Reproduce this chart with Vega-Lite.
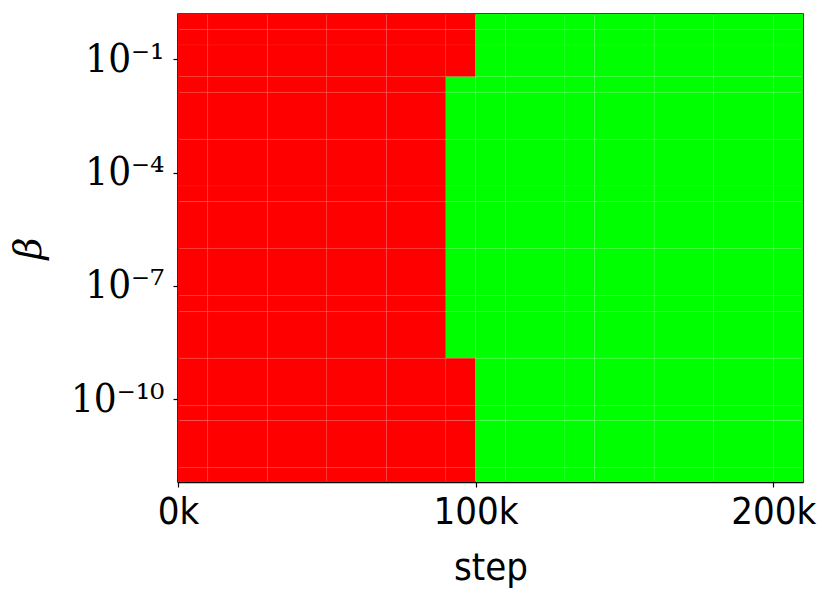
{
  "$schema": "https://vega.github.io/schema/vega-lite/v6.json",
  "autosize": {"type": "none"},
  "padding": {"left": 178, "top": 14, "right": 28, "bottom": 120},
  "width": 625,
  "height": 468,
  "background": "#ffffff",
  "config": {
    "view": {"stroke": "#000000", "strokeWidth": 1.6},
    "axis": {"grid": false, "domainColor": "#000000", "domainWidth": 1.4, "tickColor": "#000000", "tickWidth": 1.2, "tickSize": 5, "labelColor": "#000000", "titleColor": "#000000"}
  },
  "data": {"values": [
    {"s0":0,"s1":10000,"b0":1.581,"b1":0.622,"v":"fail"},
    {"s0":10000,"s1":30000,"b0":1.581,"b1":0.622,"v":"fail"},
    {"s0":30000,"s1":50000,"b0":1.581,"b1":0.622,"v":"fail"},
    {"s0":50000,"s1":70000,"b0":1.581,"b1":0.622,"v":"fail"},
    {"s0":70000,"s1":90000,"b0":1.581,"b1":0.622,"v":"fail"},
    {"s0":90000,"s1":100000,"b0":1.581,"b1":0.622,"v":"fail"},
    {"s0":100000,"s1":110000,"b0":1.581,"b1":0.622,"v":"pass"},
    {"s0":110000,"s1":130000,"b0":1.581,"b1":0.622,"v":"pass"},
    {"s0":130000,"s1":140000,"b0":1.581,"b1":0.622,"v":"pass"},
    {"s0":140000,"s1":160000,"b0":1.581,"b1":0.622,"v":"pass"},
    {"s0":160000,"s1":180000,"b0":1.581,"b1":0.622,"v":"pass"},
    {"s0":180000,"s1":200000,"b0":1.581,"b1":0.622,"v":"pass"},
    {"s0":200000,"s1":210000,"b0":1.581,"b1":0.622,"v":"pass"},

    {"s0":0,"s1":10000,"b0":0.622,"b1":0.239,"v":"fail"},
    {"s0":10000,"s1":30000,"b0":0.622,"b1":0.239,"v":"fail"},
    {"s0":30000,"s1":50000,"b0":0.622,"b1":0.239,"v":"fail"},
    {"s0":50000,"s1":70000,"b0":0.622,"b1":0.239,"v":"fail"},
    {"s0":70000,"s1":90000,"b0":0.622,"b1":0.239,"v":"fail"},
    {"s0":90000,"s1":100000,"b0":0.622,"b1":0.239,"v":"fail"},
    {"s0":100000,"s1":110000,"b0":0.622,"b1":0.239,"v":"pass"},
    {"s0":110000,"s1":130000,"b0":0.622,"b1":0.239,"v":"pass"},
    {"s0":130000,"s1":140000,"b0":0.622,"b1":0.239,"v":"pass"},
    {"s0":140000,"s1":160000,"b0":0.622,"b1":0.239,"v":"pass"},
    {"s0":160000,"s1":180000,"b0":0.622,"b1":0.239,"v":"pass"},
    {"s0":180000,"s1":200000,"b0":0.622,"b1":0.239,"v":"pass"},
    {"s0":200000,"s1":210000,"b0":0.622,"b1":0.239,"v":"pass"},

    {"s0":0,"s1":10000,"b0":0.239,"b1":0.0346,"v":"fail"},
    {"s0":10000,"s1":30000,"b0":0.239,"b1":0.0346,"v":"fail"},
    {"s0":30000,"s1":50000,"b0":0.239,"b1":0.0346,"v":"fail"},
    {"s0":50000,"s1":70000,"b0":0.239,"b1":0.0346,"v":"fail"},
    {"s0":70000,"s1":90000,"b0":0.239,"b1":0.0346,"v":"fail"},
    {"s0":90000,"s1":100000,"b0":0.239,"b1":0.0346,"v":"fail"},
    {"s0":100000,"s1":110000,"b0":0.239,"b1":0.0346,"v":"pass"},
    {"s0":110000,"s1":130000,"b0":0.239,"b1":0.0346,"v":"pass"},
    {"s0":130000,"s1":140000,"b0":0.239,"b1":0.0346,"v":"pass"},
    {"s0":140000,"s1":160000,"b0":0.239,"b1":0.0346,"v":"pass"},
    {"s0":160000,"s1":180000,"b0":0.239,"b1":0.0346,"v":"pass"},
    {"s0":180000,"s1":200000,"b0":0.239,"b1":0.0346,"v":"pass"},
    {"s0":200000,"s1":210000,"b0":0.239,"b1":0.0346,"v":"pass"},

    {"s0":0,"s1":10000,"b0":0.0346,"b1":0.0134,"v":"fail"},
    {"s0":10000,"s1":30000,"b0":0.0346,"b1":0.0134,"v":"fail"},
    {"s0":30000,"s1":50000,"b0":0.0346,"b1":0.0134,"v":"fail"},
    {"s0":50000,"s1":70000,"b0":0.0346,"b1":0.0134,"v":"fail"},
    {"s0":70000,"s1":90000,"b0":0.0346,"b1":0.0134,"v":"fail"},
    {"s0":90000,"s1":100000,"b0":0.0346,"b1":0.0134,"v":"pass"},
    {"s0":100000,"s1":110000,"b0":0.0346,"b1":0.0134,"v":"pass"},
    {"s0":110000,"s1":130000,"b0":0.0346,"b1":0.0134,"v":"pass"},
    {"s0":130000,"s1":140000,"b0":0.0346,"b1":0.0134,"v":"pass"},
    {"s0":140000,"s1":160000,"b0":0.0346,"b1":0.0134,"v":"pass"},
    {"s0":160000,"s1":180000,"b0":0.0346,"b1":0.0134,"v":"pass"},
    {"s0":180000,"s1":200000,"b0":0.0346,"b1":0.0134,"v":"pass"},
    {"s0":200000,"s1":210000,"b0":0.0346,"b1":0.0134,"v":"pass"},

    {"s0":0,"s1":10000,"b0":0.0134,"b1":0.000764,"v":"fail"},
    {"s0":10000,"s1":30000,"b0":0.0134,"b1":0.000764,"v":"fail"},
    {"s0":30000,"s1":50000,"b0":0.0134,"b1":0.000764,"v":"fail"},
    {"s0":50000,"s1":70000,"b0":0.0134,"b1":0.000764,"v":"fail"},
    {"s0":70000,"s1":90000,"b0":0.0134,"b1":0.000764,"v":"fail"},
    {"s0":90000,"s1":100000,"b0":0.0134,"b1":0.000764,"v":"pass"},
    {"s0":100000,"s1":110000,"b0":0.0134,"b1":0.000764,"v":"pass"},
    {"s0":110000,"s1":130000,"b0":0.0134,"b1":0.000764,"v":"pass"},
    {"s0":130000,"s1":140000,"b0":0.0134,"b1":0.000764,"v":"pass"},
    {"s0":140000,"s1":160000,"b0":0.0134,"b1":0.000764,"v":"pass"},
    {"s0":160000,"s1":180000,"b0":0.0134,"b1":0.000764,"v":"pass"},
    {"s0":180000,"s1":200000,"b0":0.0134,"b1":0.000764,"v":"pass"},
    {"s0":200000,"s1":210000,"b0":0.0134,"b1":0.000764,"v":"pass"},

    {"s0":0,"s1":10000,"b0":0.000764,"b1":0.0000444,"v":"fail"},
    {"s0":10000,"s1":30000,"b0":0.000764,"b1":0.0000444,"v":"fail"},
    {"s0":30000,"s1":50000,"b0":0.000764,"b1":0.0000444,"v":"fail"},
    {"s0":50000,"s1":70000,"b0":0.000764,"b1":0.0000444,"v":"fail"},
    {"s0":70000,"s1":90000,"b0":0.000764,"b1":0.0000444,"v":"fail"},
    {"s0":90000,"s1":100000,"b0":0.000764,"b1":0.0000444,"v":"pass"},
    {"s0":100000,"s1":110000,"b0":0.000764,"b1":0.0000444,"v":"pass"},
    {"s0":110000,"s1":130000,"b0":0.000764,"b1":0.0000444,"v":"pass"},
    {"s0":130000,"s1":140000,"b0":0.000764,"b1":0.0000444,"v":"pass"},
    {"s0":140000,"s1":160000,"b0":0.000764,"b1":0.0000444,"v":"pass"},
    {"s0":160000,"s1":180000,"b0":0.000764,"b1":0.0000444,"v":"pass"},
    {"s0":180000,"s1":200000,"b0":0.000764,"b1":0.0000444,"v":"pass"},
    {"s0":200000,"s1":210000,"b0":0.000764,"b1":0.0000444,"v":"pass"},

    {"s0":0,"s1":10000,"b0":0.0000444,"b1":0.000017,"v":"fail"},
    {"s0":10000,"s1":30000,"b0":0.0000444,"b1":0.000017,"v":"fail"},
    {"s0":30000,"s1":50000,"b0":0.0000444,"b1":0.000017,"v":"fail"},
    {"s0":50000,"s1":70000,"b0":0.0000444,"b1":0.000017,"v":"fail"},
    {"s0":70000,"s1":90000,"b0":0.0000444,"b1":0.000017,"v":"fail"},
    {"s0":90000,"s1":100000,"b0":0.0000444,"b1":0.000017,"v":"pass"},
    {"s0":100000,"s1":110000,"b0":0.0000444,"b1":0.000017,"v":"pass"},
    {"s0":110000,"s1":130000,"b0":0.0000444,"b1":0.000017,"v":"pass"},
    {"s0":130000,"s1":140000,"b0":0.0000444,"b1":0.000017,"v":"pass"},
    {"s0":140000,"s1":160000,"b0":0.0000444,"b1":0.000017,"v":"pass"},
    {"s0":160000,"s1":180000,"b0":0.0000444,"b1":0.000017,"v":"pass"},
    {"s0":180000,"s1":200000,"b0":0.0000444,"b1":0.000017,"v":"pass"},
    {"s0":200000,"s1":210000,"b0":0.0000444,"b1":0.000017,"v":"pass"},

    {"s0":0,"s1":10000,"b0":0.000017,"b1":9.93e-7,"v":"fail"},
    {"s0":10000,"s1":30000,"b0":0.000017,"b1":9.93e-7,"v":"fail"},
    {"s0":30000,"s1":50000,"b0":0.000017,"b1":9.93e-7,"v":"fail"},
    {"s0":50000,"s1":70000,"b0":0.000017,"b1":9.93e-7,"v":"fail"},
    {"s0":70000,"s1":90000,"b0":0.000017,"b1":9.93e-7,"v":"fail"},
    {"s0":90000,"s1":100000,"b0":0.000017,"b1":9.93e-7,"v":"pass"},
    {"s0":100000,"s1":110000,"b0":0.000017,"b1":9.93e-7,"v":"pass"},
    {"s0":110000,"s1":130000,"b0":0.000017,"b1":9.93e-7,"v":"pass"},
    {"s0":130000,"s1":140000,"b0":0.000017,"b1":9.93e-7,"v":"pass"},
    {"s0":140000,"s1":160000,"b0":0.000017,"b1":9.93e-7,"v":"pass"},
    {"s0":160000,"s1":180000,"b0":0.000017,"b1":9.93e-7,"v":"pass"},
    {"s0":180000,"s1":200000,"b0":0.000017,"b1":9.93e-7,"v":"pass"},
    {"s0":200000,"s1":210000,"b0":0.000017,"b1":9.93e-7,"v":"pass"},

    {"s0":0,"s1":10000,"b0":9.93e-7,"b1":5.53e-8,"v":"fail"},
    {"s0":10000,"s1":30000,"b0":9.93e-7,"b1":5.53e-8,"v":"fail"},
    {"s0":30000,"s1":50000,"b0":9.93e-7,"b1":5.53e-8,"v":"fail"},
    {"s0":50000,"s1":70000,"b0":9.93e-7,"b1":5.53e-8,"v":"fail"},
    {"s0":70000,"s1":90000,"b0":9.93e-7,"b1":5.53e-8,"v":"fail"},
    {"s0":90000,"s1":100000,"b0":9.93e-7,"b1":5.53e-8,"v":"pass"},
    {"s0":100000,"s1":110000,"b0":9.93e-7,"b1":5.53e-8,"v":"pass"},
    {"s0":110000,"s1":130000,"b0":9.93e-7,"b1":5.53e-8,"v":"pass"},
    {"s0":130000,"s1":140000,"b0":9.93e-7,"b1":5.53e-8,"v":"pass"},
    {"s0":140000,"s1":160000,"b0":9.93e-7,"b1":5.53e-8,"v":"pass"},
    {"s0":160000,"s1":180000,"b0":9.93e-7,"b1":5.53e-8,"v":"pass"},
    {"s0":180000,"s1":200000,"b0":9.93e-7,"b1":5.53e-8,"v":"pass"},
    {"s0":200000,"s1":210000,"b0":9.93e-7,"b1":5.53e-8,"v":"pass"},

    {"s0":0,"s1":10000,"b0":5.53e-8,"b1":2.08e-8,"v":"fail"},
    {"s0":10000,"s1":30000,"b0":5.53e-8,"b1":2.08e-8,"v":"fail"},
    {"s0":30000,"s1":50000,"b0":5.53e-8,"b1":2.08e-8,"v":"fail"},
    {"s0":50000,"s1":70000,"b0":5.53e-8,"b1":2.08e-8,"v":"fail"},
    {"s0":70000,"s1":90000,"b0":5.53e-8,"b1":2.08e-8,"v":"fail"},
    {"s0":90000,"s1":100000,"b0":5.53e-8,"b1":2.08e-8,"v":"pass"},
    {"s0":100000,"s1":110000,"b0":5.53e-8,"b1":2.08e-8,"v":"pass"},
    {"s0":110000,"s1":130000,"b0":5.53e-8,"b1":2.08e-8,"v":"pass"},
    {"s0":130000,"s1":140000,"b0":5.53e-8,"b1":2.08e-8,"v":"pass"},
    {"s0":140000,"s1":160000,"b0":5.53e-8,"b1":2.08e-8,"v":"pass"},
    {"s0":160000,"s1":180000,"b0":5.53e-8,"b1":2.08e-8,"v":"pass"},
    {"s0":180000,"s1":200000,"b0":5.53e-8,"b1":2.08e-8,"v":"pass"},
    {"s0":200000,"s1":210000,"b0":5.53e-8,"b1":2.08e-8,"v":"pass"},

    {"s0":0,"s1":10000,"b0":2.08e-8,"b1":1.22e-9,"v":"fail"},
    {"s0":10000,"s1":30000,"b0":2.08e-8,"b1":1.22e-9,"v":"fail"},
    {"s0":30000,"s1":50000,"b0":2.08e-8,"b1":1.22e-9,"v":"fail"},
    {"s0":50000,"s1":70000,"b0":2.08e-8,"b1":1.22e-9,"v":"fail"},
    {"s0":70000,"s1":90000,"b0":2.08e-8,"b1":1.22e-9,"v":"fail"},
    {"s0":90000,"s1":100000,"b0":2.08e-8,"b1":1.22e-9,"v":"pass"},
    {"s0":100000,"s1":110000,"b0":2.08e-8,"b1":1.22e-9,"v":"pass"},
    {"s0":110000,"s1":130000,"b0":2.08e-8,"b1":1.22e-9,"v":"pass"},
    {"s0":130000,"s1":140000,"b0":2.08e-8,"b1":1.22e-9,"v":"pass"},
    {"s0":140000,"s1":160000,"b0":2.08e-8,"b1":1.22e-9,"v":"pass"},
    {"s0":160000,"s1":180000,"b0":2.08e-8,"b1":1.22e-9,"v":"pass"},
    {"s0":180000,"s1":200000,"b0":2.08e-8,"b1":1.22e-9,"v":"pass"},
    {"s0":200000,"s1":210000,"b0":2.08e-8,"b1":1.22e-9,"v":"pass"},

    {"s0":0,"s1":10000,"b0":1.22e-9,"b1":6.78e-11,"v":"fail"},
    {"s0":10000,"s1":30000,"b0":1.22e-9,"b1":6.78e-11,"v":"fail"},
    {"s0":30000,"s1":50000,"b0":1.22e-9,"b1":6.78e-11,"v":"fail"},
    {"s0":50000,"s1":70000,"b0":1.22e-9,"b1":6.78e-11,"v":"fail"},
    {"s0":70000,"s1":90000,"b0":1.22e-9,"b1":6.78e-11,"v":"fail"},
    {"s0":90000,"s1":100000,"b0":1.22e-9,"b1":6.78e-11,"v":"fail"},
    {"s0":100000,"s1":110000,"b0":1.22e-9,"b1":6.78e-11,"v":"pass"},
    {"s0":110000,"s1":130000,"b0":1.22e-9,"b1":6.78e-11,"v":"pass"},
    {"s0":130000,"s1":140000,"b0":1.22e-9,"b1":6.78e-11,"v":"pass"},
    {"s0":140000,"s1":160000,"b0":1.22e-9,"b1":6.78e-11,"v":"pass"},
    {"s0":160000,"s1":180000,"b0":1.22e-9,"b1":6.78e-11,"v":"pass"},
    {"s0":180000,"s1":200000,"b0":1.22e-9,"b1":6.78e-11,"v":"pass"},
    {"s0":200000,"s1":210000,"b0":1.22e-9,"b1":6.78e-11,"v":"pass"},

    {"s0":0,"s1":10000,"b0":6.78e-11,"b1":2.72e-11,"v":"fail"},
    {"s0":10000,"s1":30000,"b0":6.78e-11,"b1":2.72e-11,"v":"fail"},
    {"s0":30000,"s1":50000,"b0":6.78e-11,"b1":2.72e-11,"v":"fail"},
    {"s0":50000,"s1":70000,"b0":6.78e-11,"b1":2.72e-11,"v":"fail"},
    {"s0":70000,"s1":90000,"b0":6.78e-11,"b1":2.72e-11,"v":"fail"},
    {"s0":90000,"s1":100000,"b0":6.78e-11,"b1":2.72e-11,"v":"fail"},
    {"s0":100000,"s1":110000,"b0":6.78e-11,"b1":2.72e-11,"v":"pass"},
    {"s0":110000,"s1":130000,"b0":6.78e-11,"b1":2.72e-11,"v":"pass"},
    {"s0":130000,"s1":140000,"b0":6.78e-11,"b1":2.72e-11,"v":"pass"},
    {"s0":140000,"s1":160000,"b0":6.78e-11,"b1":2.72e-11,"v":"pass"},
    {"s0":160000,"s1":180000,"b0":6.78e-11,"b1":2.72e-11,"v":"pass"},
    {"s0":180000,"s1":200000,"b0":6.78e-11,"b1":2.72e-11,"v":"pass"},
    {"s0":200000,"s1":210000,"b0":6.78e-11,"b1":2.72e-11,"v":"pass"},

    {"s0":0,"s1":10000,"b0":2.72e-11,"b1":1.55e-12,"v":"fail"},
    {"s0":10000,"s1":30000,"b0":2.72e-11,"b1":1.55e-12,"v":"fail"},
    {"s0":30000,"s1":50000,"b0":2.72e-11,"b1":1.55e-12,"v":"fail"},
    {"s0":50000,"s1":70000,"b0":2.72e-11,"b1":1.55e-12,"v":"fail"},
    {"s0":70000,"s1":90000,"b0":2.72e-11,"b1":1.55e-12,"v":"fail"},
    {"s0":90000,"s1":100000,"b0":2.72e-11,"b1":1.55e-12,"v":"fail"},
    {"s0":100000,"s1":110000,"b0":2.72e-11,"b1":1.55e-12,"v":"pass"},
    {"s0":110000,"s1":130000,"b0":2.72e-11,"b1":1.55e-12,"v":"pass"},
    {"s0":130000,"s1":140000,"b0":2.72e-11,"b1":1.55e-12,"v":"pass"},
    {"s0":140000,"s1":160000,"b0":2.72e-11,"b1":1.55e-12,"v":"pass"},
    {"s0":160000,"s1":180000,"b0":2.72e-11,"b1":1.55e-12,"v":"pass"},
    {"s0":180000,"s1":200000,"b0":2.72e-11,"b1":1.55e-12,"v":"pass"},
    {"s0":200000,"s1":210000,"b0":2.72e-11,"b1":1.55e-12,"v":"pass"},

    {"s0":0,"s1":10000,"b0":1.55e-12,"b1":6.47e-13,"v":"fail"},
    {"s0":10000,"s1":30000,"b0":1.55e-12,"b1":6.47e-13,"v":"fail"},
    {"s0":30000,"s1":50000,"b0":1.55e-12,"b1":6.47e-13,"v":"fail"},
    {"s0":50000,"s1":70000,"b0":1.55e-12,"b1":6.47e-13,"v":"fail"},
    {"s0":70000,"s1":90000,"b0":1.55e-12,"b1":6.47e-13,"v":"fail"},
    {"s0":90000,"s1":100000,"b0":1.55e-12,"b1":6.47e-13,"v":"fail"},
    {"s0":100000,"s1":110000,"b0":1.55e-12,"b1":6.47e-13,"v":"pass"},
    {"s0":110000,"s1":130000,"b0":1.55e-12,"b1":6.47e-13,"v":"pass"},
    {"s0":130000,"s1":140000,"b0":1.55e-12,"b1":6.47e-13,"v":"pass"},
    {"s0":140000,"s1":160000,"b0":1.55e-12,"b1":6.47e-13,"v":"pass"},
    {"s0":160000,"s1":180000,"b0":1.55e-12,"b1":6.47e-13,"v":"pass"},
    {"s0":180000,"s1":200000,"b0":1.55e-12,"b1":6.47e-13,"v":"pass"},
    {"s0":200000,"s1":210000,"b0":1.55e-12,"b1":6.47e-13,"v":"pass"}
  ]},
  "mark": {"type": "rect", "stroke": "#ffffff", "strokeWidth": 1, "strokeOpacity": 0.05},
  "encoding": {
    "x": {
      "field": "s0", "type": "quantitative",
      "scale": {"domain": [0, 210000], "nice": false, "zero": false},
      "axis": {
        "values": [0, 100000, 200000],
        "labelExpr": "format(datum.value / 1000, 'd') + 'k'",
        "labelFont": "DejaVu Sans Condensed", "labelFontSize": 38,
        "labelPadding": 6, "labelFlush": false, "labelOverlap": false,
        "title": "step", "titleFont": "DejaVu Sans Condensed", "titleFontSize": 38, "titleFontWeight": "normal", "titlePadding": 18
      }
    },
    "x2": {"field": "s1"},
    "y": {
      "field": "b0", "type": "quantitative",
      "scale": {"type": "log", "domain": [6.47e-13, 1.581], "nice": false},
      "axis": {
        "values": [0.1, 0.0001, 1e-7, 1e-10],
        "labelExpr": "datum.value < 1e-9 ? '10⁻¹⁰' : datum.value < 1e-6 ? '10⁻⁷' : datum.value < 1e-3 ? '10⁻⁴' : '10⁻¹'",
        "labelFont": "DejaVu Serif Condensed", "labelFontSize": 40, "labelPadding": 9, "labelFlush": false, "labelOverlap": false, "labelBaseline": "middle",
        "title": "β", "titleFont": "DejaVu Serif", "titleFontStyle": "italic", "titleFontSize": 38, "titleFontWeight": "normal", "titlePadding": 22
      }
    },
    "y2": {"field": "b1"},
    "color": {
      "field": "v", "type": "nominal",
      "scale": {"domain": ["fail", "pass"], "range": ["#ff0000", "#00ff00"]},
      "legend": null
    }
  }
}
